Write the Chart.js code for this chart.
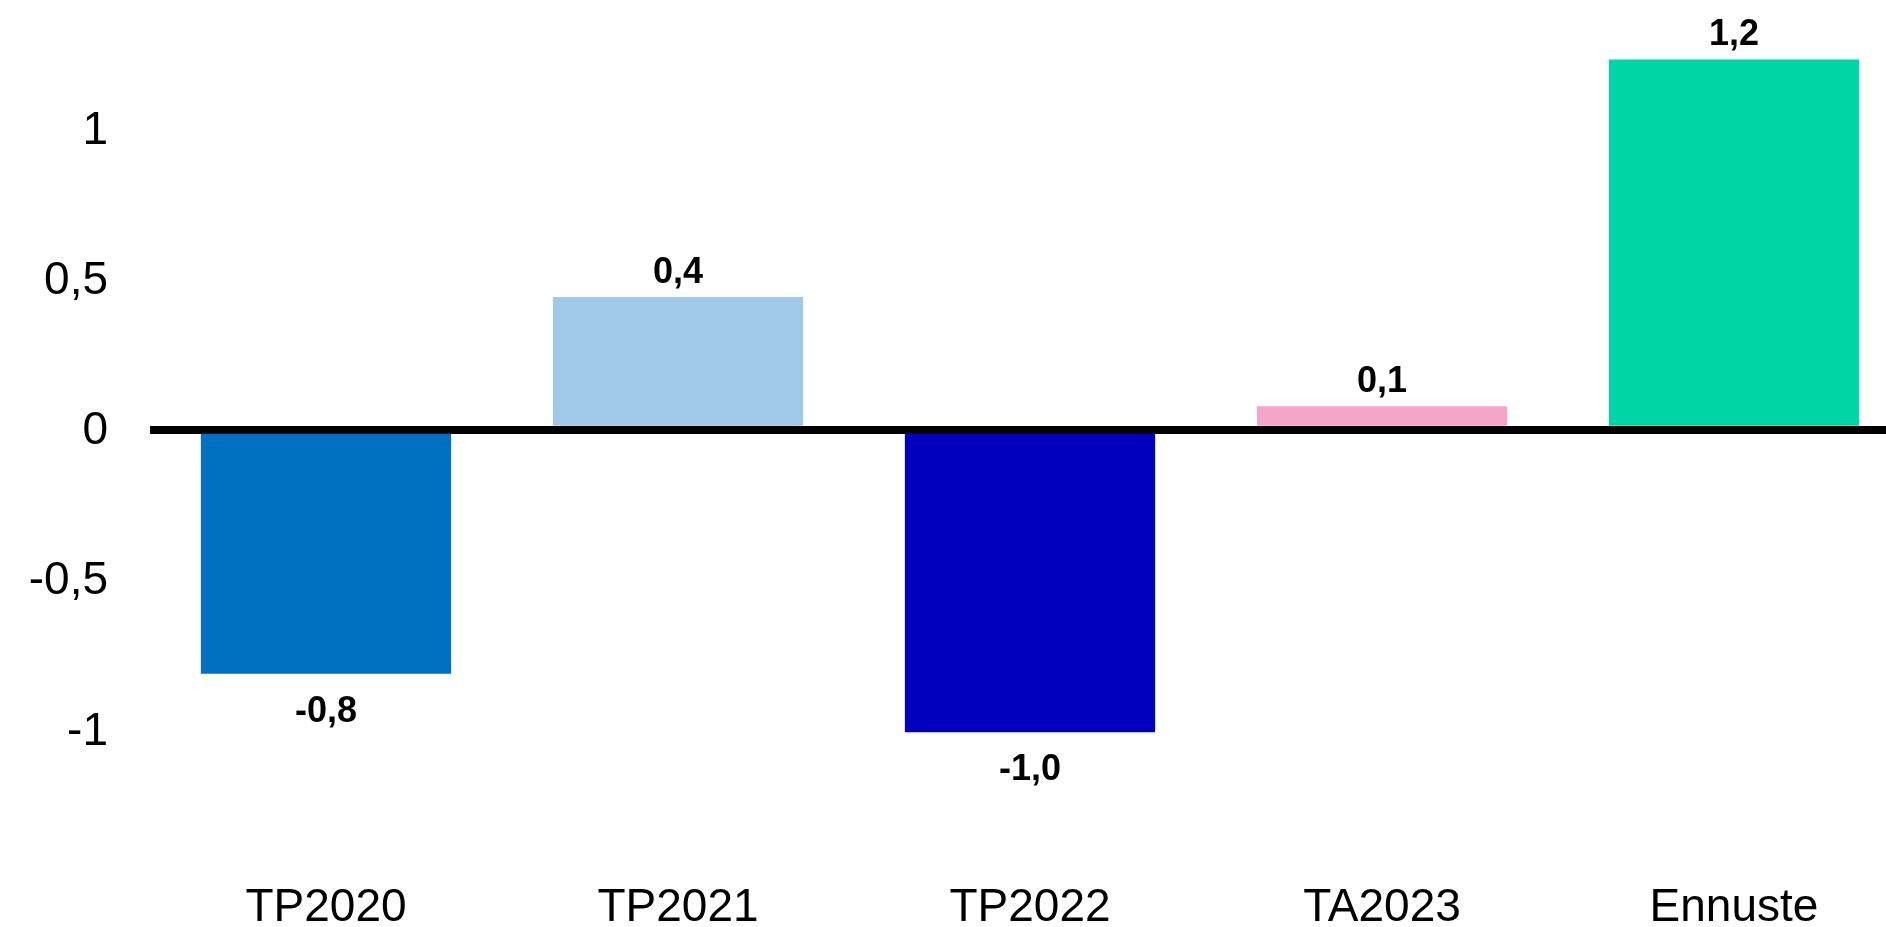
<!DOCTYPE html>
<html>
<head>
<meta charset="utf-8">
<script src="https://cdn.jsdelivr.net/npm/chart.js@4"></script>
<style>
html,body{margin:0;padding:0;background:#fff;overflow:hidden;width:1886px;height:927px;}
#wrap{position:absolute;left:0;top:0;width:1910px;height:927px;}
</style>
</head>
<body>
<div id="wrap"><canvas id="c" width="1910" height="927"></canvas></div>
<script>
const categories = ["TP2020", "TP2021", "TP2022", "TA2023", "Ennuste"];
const values = [-0.813, 0.442, -1.008, 0.078, 1.233];
const valueLabels = ["-0,8", "0,4", "-1,0", "0,1", "1,2"];
const barColors = ["#0070C0", "#A0C9EA", "#0000BE", "#F3A5CA", "#00D5A7"];
const yTickValues = [-1, -0.5, 0, 0.5, 1];
const yTickLabels = ["-1", "-0,5", "0", "0,5", "1"];

const labelPlugin = {
  id: "valueLabels",
  afterDatasetsDraw(chart) {
    const ctx = chart.ctx;
    const meta = chart.getDatasetMeta(0);
    ctx.save();
    ctx.font = "bold 36px 'Liberation Sans', Arial, sans-serif";
    ctx.fillStyle = "#000";
    ctx.textAlign = "center";
    ctx.textBaseline = "middle";
    meta.data.forEach((el, i) => {
      const v = values[i];
      const y = v >= 0 ? el.y - 24 : el.y + 38;
      ctx.fillText(valueLabels[i], el.x, y);
    });
    ctx.restore();
  }
};

new Chart(document.getElementById("c"), {
  type: "bar",
  data: {
    labels: categories,
    datasets: [{
      data: values,
      backgroundColor: barColors,
      borderWidth: 0,
      categoryPercentage: 1,
      barPercentage: 0.711
    }]
  },
  options: {
    responsive: false,
    animation: false,
    layout: { padding: 0 },
    plugins: { legend: { display: false }, tooltip: { enabled: false } },
    scales: {
      x: {
        grid: { display: false, drawTicks: false },
        border: { display: false },
        ticks: {
          padding: 2,
          color: "#000",
          font: { family: "'Liberation Sans', Arial, sans-serif", size: 46 }
        },
        afterFit(scale) { scale.height = 48; }
      },
      y: {
        min: -1.4967,
        max: 1.3393,
        z: 1,
        border: { display: false },
        grid: {
          drawTicks: true,
          tickLength: 42,
          tickColor: "rgba(0,0,0,0)",
          color: (c) => (c.tick && c.tick.value === 0 ? "#000" : "rgba(0,0,0,0)"),
          lineWidth: (c) => (c.tick && c.tick.value === 0 ? 8 : 0)
        },
        afterBuildTicks(scale) {
          scale.ticks = yTickValues.map(v => ({ value: v }));
        },
        ticks: {
          padding: 0,
          labelOffset: 2,
          color: "#000",
          font: { family: "'Liberation Sans', Arial, sans-serif", size: 46 },
          callback: (v) => {
            const i = yTickValues.indexOf(v);
            return i >= 0 ? yTickLabels[i] : "";
          }
        },
        afterFit(scale) { scale.width = 150; }
      }
    }
  },
  plugins: [labelPlugin]
});
</script>
</body>
</html>
